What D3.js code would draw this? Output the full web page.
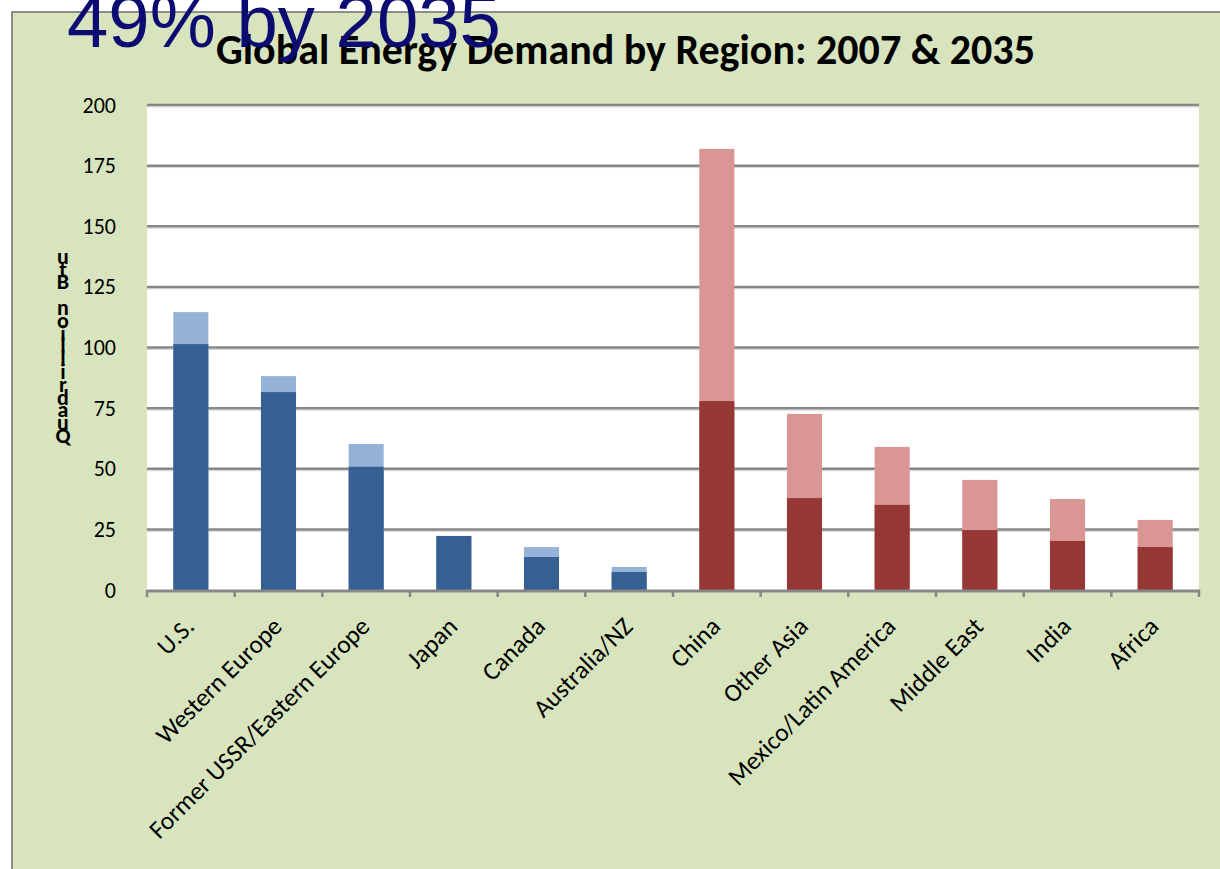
<!DOCTYPE html>
<html>
<head>
<meta charset="utf-8">
<script src="https://cdn.jsdelivr.net/npm/d3@7"></script>
<style>
  body { margin: 0; background: #fff; }
  svg { display: block; }
  .lbl { font-family: Carlito, Calibri, Lato, sans-serif; fill: #000; }
</style>
</head>
<body>
<svg id="chart" width="1220" height="869"></svg>
<script>
var regions = ['U.S.', 'Western Europe', 'Former USSR/Eastern Europe', 'Japan', 'Canada', 'Australia/NZ',
               'China', 'Other Asia', 'Mexico/Latin America', 'Middle East', 'India', 'Africa'],
    groups = ['OECD', 'OECD', 'OECD', 'OECD', 'OECD', 'OECD',
              'Non-OECD', 'Non-OECD', 'Non-OECD', 'Non-OECD', 'Non-OECD', 'Non-OECD'],
    demand2007 = [101.4, 81.6, 50.8, 22.3, 13.6, 7.4, 77.9, 37.9, 35.1, 24.7, 20.2, 17.7],
    demand2035 = [114.6, 88.2, 60.2, 22.0, 17.7, 9.5, 181.9, 72.6, 59.0, 45.4, 37.5, 28.9],
    yTicks = [0, 25, 50, 75, 100, 125, 150, 175, 200],
    yLabel = 'Quadrillion Btu',
    title = 'Global Energy Demand by Region: 2007 & 2035',
    headline = '49% by 2035';

var COLORS = {
      'OECD':     { y2007: '#376092', y2035: '#95b3d7' },
      'Non-OECD': { y2007: '#953735', y2035: '#d99694' }
    },
    GRID = '#878787',
    GREEN = '#d7e4bd';

var svg = d3.select('#chart'),
    plot = { left: 147, right: 1199, top: 105, bottom: 590 },

    x = d3.scaleBand()
      .domain(regions)
      .range([plot.left, plot.right])
      .paddingInner(0.6)
      .paddingOuter(0.3),

    y = d3.scaleLinear()
      .domain([0, 200])
      .range([plot.bottom, plot.top]),

    rows = regions.map(function(r, i) {
      return { region: r, group: groups[i], v2007: demand2007[i], v2035: demand2035[i] };
    });

// outer chart area
svg.append('rect')
  .attr('x', 12).attr('y', 12)
  .attr('width', 1220).attr('height', 869)
  .attr('fill', GREEN)
  .attr('stroke', '#8c8c8c')
  .attr('stroke-width', 2);

// plot area
svg.append('rect')
  .attr('x', plot.left).attr('y', plot.top)
  .attr('width', plot.right - plot.left)
  .attr('height', plot.bottom - plot.top)
  .attr('fill', '#fff');

// gridlines (with a faint shadow under each one)
var grid = svg.append('g'),
    gridTicks = yTicks.filter(function(d) { return d > 0; });

grid.selectAll('line.shadow')
  .data(gridTicks)
  .enter().append('line')
    .attr('class', 'shadow')
    .attr('x1', plot.left).attr('x2', plot.right)
    .attr('y1', function(d) { return y(d) + 2; })
    .attr('y2', function(d) { return y(d) + 2; })
    .attr('stroke', '#d4d4d4')
    .attr('stroke-width', 1);

grid.selectAll('line.major')
  .data(gridTicks)
  .enter().append('line')
    .attr('class', 'major')
    .attr('x1', plot.left).attr('x2', plot.right)
    .attr('y1', function(d) { return y(d); })
    .attr('y2', function(d) { return y(d); })
    .attr('stroke', GRID)
    .attr('stroke-width', 2.5);

// 2035 bars behind, 2007 bars in front
var bars = svg.append('g');
bars.selectAll('rect.y2035')
  .data(rows)
  .enter().append('rect')
    .attr('class', 'y2035')
    .attr('x', function(d) { return x(d.region); })
    .attr('width', x.bandwidth())
    .attr('y', function(d) { return y(d.v2035); })
    .attr('height', function(d) { return y(0) - y(d.v2035); })
    .attr('fill', function(d) { return COLORS[d.group].y2035; });

bars.selectAll('rect.y2007')
  .data(rows)
  .enter().append('rect')
    .attr('class', 'y2007')
    .attr('x', function(d) { return x(d.region); })
    .attr('width', x.bandwidth())
    .attr('y', function(d) { return y(d.v2007); })
    .attr('height', function(d) { return y(0) - y(d.v2007); })
    .attr('fill', function(d) { return COLORS[d.group].y2007; });

// x axis line and boundary ticks
var bounds = d3.range(regions.length + 1).map(function(i) {
  return x(regions[0]) - x.step() * x.paddingOuter() + i * x.step();
});

svg.append('line')
  .attr('x1', plot.left).attr('x2', plot.right + 1)
  .attr('y1', plot.bottom + 1).attr('y2', plot.bottom + 1)
  .attr('stroke', GRID)
  .attr('stroke-width', 3);

svg.append('g').selectAll('line')
  .data(bounds)
  .enter().append('line')
    .attr('x1', function(d) { return d; })
    .attr('x2', function(d) { return d; })
    .attr('y1', plot.bottom).attr('y2', plot.bottom + 7)
    .attr('stroke', GRID)
    .attr('stroke-width', 2.5);

// y tick labels
var yAxis = svg.append('g')
  .attr('transform', 'translate(' + plot.left + ',0)')
  .call(d3.axisLeft(y).tickValues(yTicks).tickSize(0).tickPadding(31));

yAxis.select('.domain').remove();
yAxis.selectAll('text')
  .attr('class', 'lbl')
  .style('font-size', '22px')
  .attr('fill', '#000');

// category labels, rotated
var catLabels = svg.append('g').selectAll('text')
  .data(regions)
  .enter().append('text')
    .attr('class', 'lbl')
    .attr('text-anchor', 'end')
    .style('font-size', '20px')
    .attr('transform', function(d) {
      return 'translate(' + (x(d) + x.bandwidth() / 2 + 5) + ',628) rotate(-45)';
    })
    .text(function(d) { return d; });

// scale the labels so the longest one matches the reference length
var longest = catLabels.filter(function(d) { return d === 'Former USSR/Eastern Europe'; }).node(),
    labelSize = 20 * 300 / longest.getComputedTextLength();
catLabels.style('font-size', labelSize + 'px');

// stacked y axis label, read bottom to top (letters squeezed together like the original)
var stackChars = yLabel.split('');
svg.append('g').selectAll('text')
  .data(stackChars)
  .enter().append('text')
    .attr('class', 'lbl')
    .attr('x', 63)
    .attr('y', function(d, i) { return 443 - i * 12.8; })
    .attr('text-anchor', 'middle')
    .style('font-size', '22px')
    .style('font-weight', 'bold')
    .text(function(d) { return d; });

// chart title
var titleEl = svg.append('text')
  .attr('class', 'lbl')
  .attr('x', 216).attr('y', 64)
  .style('font-size', '35px')
  .style('font-weight', 'bold')
  .text(title);
titleEl.style('font-size', (35 * 819 / titleEl.node().getComputedTextLength()) + 'px');

// slide headline overlapping the chart
var head = svg.append('text')
  .attr('x', 67).attr('y', 47)
  .style('font-family', '"Liberation Sans", Arial, sans-serif')
  .style('font-size', '74px')
  .attr('fill', '#0b0b72')
  .text(headline);
head.style('font-size', (74 * 434 / head.node().getComputedTextLength()) + 'px');
</script>
</body>
</html>
